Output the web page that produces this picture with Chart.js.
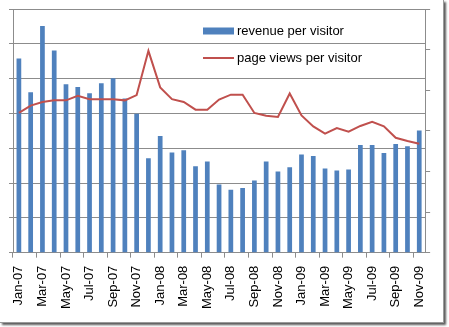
<!DOCTYPE html>
<html>
<head>
<meta charset="utf-8">
<script src="https://cdn.jsdelivr.net/npm/chart.js@4/dist/chart.umd.min.js"></script>
<style>
  body { margin: 0; background: #fff; }
  #frame {
    position: absolute; left: 0; top: 0;
    width: 443px; height: 322px;
    border-right: 1px solid #9a9a9a; border-bottom: 1px solid #9a9a9a;
    box-shadow: 2px 2px 2px rgba(0,0,0,0.65);
    background: #fff;
  }
</style>
</head>
<body>
<div id="frame"><canvas id="revenueChart" width="443" height="322"></canvas></div>
<script>
var months = ["Jan-07","Feb-07","Mar-07","Apr-07","May-07","Jun-07","Jul-07","Aug-07","Sep-07","Oct-07","Nov-07","Dec-07",
              "Jan-08","Feb-08","Mar-08","Apr-08","May-08","Jun-08","Jul-08","Aug-08","Sep-08","Oct-08","Nov-08","Dec-08",
              "Jan-09","Feb-09","Mar-09","Apr-09","May-09","Jun-09","Jul-09","Aug-09","Sep-09","Oct-09","Nov-09"];
var revenuePerVisitor = [5.58, 4.61, 6.51, 5.81, 4.84, 4.76, 4.58, 4.87, 5.01, 4.43, 3.99, 2.71,
                         3.35, 2.88, 2.94, 2.48, 2.62, 1.96, 1.81, 1.86, 2.07, 2.62, 2.33, 2.45,
                         2.82, 2.78, 2.42, 2.36, 2.39, 3.09, 3.09, 2.86, 3.12, 3.06, 3.51];
var pageViewsPerVisitor = [3.44, 3.62, 3.71, 3.75, 3.75, 3.86, 3.78, 3.78, 3.78, 3.75, 3.88, 4.97,
                           4.07, 3.78, 3.71, 3.52, 3.52, 3.77, 3.89, 3.89, 3.44, 3.37, 3.34, 3.92,
                           3.38, 3.11, 2.93, 3.07, 2.98, 3.12, 3.22, 3.11, 2.83, 2.75, 2.68];

var gridGray = '#8c8c8c';
var font = { family: 'Liberation Sans', size: 13 };

// legend drawn inside the plot area, top right
var innerLegend = {
    id: 'innerLegend',
    afterDraw: function(chart) {
        var ctx = chart.ctx;
        var x = chart.chartArea.left + 190;
        var rows = [chart.chartArea.top + 22, chart.chartArea.top + 49];
        ctx.save();
        ctx.font = font.size + 'px ' + font.family;
        ctx.textBaseline = 'middle';
        ctx.fillStyle = '#000';
        chart.data.datasets.forEach(function(ds, i) {
            var y = rows[i];
            if (ds.type === 'bar') {
                ctx.fillStyle = ds.backgroundColor;
                ctx.fillRect(x, y - 3.5, 31, 7);
            } else {
                ctx.strokeStyle = ds.borderColor;
                ctx.lineWidth = 2;
                ctx.beginPath(); ctx.moveTo(x, y); ctx.lineTo(x + 31, y); ctx.stroke();
            }
            ctx.fillStyle = '#000';
            ctx.fillText(ds.label, x + 34, y);
        });
        ctx.restore();
    }
};

new Chart(document.getElementById('revenueChart'), {
    type: 'bar',
    data: {
        labels: months,
        datasets: [{
            type: 'bar',
            label: 'revenue per visitor',
            data: revenuePerVisitor,
            backgroundColor: '#4f81bd',
            barPercentage: 1,
            categoryPercentage: 0.4,
            yAxisID: 'y',
            order: 1
        }, {
            type: 'line',
            label: 'page views per visitor',
            data: pageViewsPerVisitor,
            borderColor: '#c0504d',
            borderWidth: 2,
            pointRadius: 0,
            tension: 0,
            fill: false,
            yAxisID: 'y2',
            order: 0
        }]
    },
    options: {
        responsive: false,
        animation: false,
        layout: { padding: { left: 9, right: 6, top: 9, bottom: 5 } },
        plugins: { legend: { display: false }, tooltip: { enabled: false } },
        scales: {
            x: {
                grid: {
                    offset: true,
                    drawOnChartArea: false,
                    tickLength: 5,
                    color: function(c) { return c.index % 2 === 0 ? gridGray : 'rgba(0,0,0,0)'; }
                },
                border: { color: gridGray },
                ticks: {
                    autoSkip: false,
                    minRotation: 90,
                    maxRotation: 90,
                    padding: 8,
                    color: '#000',
                    font: font,
                    callback: function(v, i) { return i % 2 === 0 ? months[i] : ''; }
                }
            },
            y: {
                position: 'left',
                min: 0, max: 7,
                ticks: { display: false, stepSize: 1 },
                grid: { color: gridGray, tickLength: 4 },
                border: { color: gridGray }
            },
            y2: {
                position: 'right',
                min: 0, max: 6,
                ticks: { display: false, stepSize: 1 },
                grid: { drawOnChartArea: false, color: gridGray, tickLength: 5 },
                border: { color: gridGray }
            }
        }
    },
    plugins: [innerLegend]
});
</script>
</body>
</html>
